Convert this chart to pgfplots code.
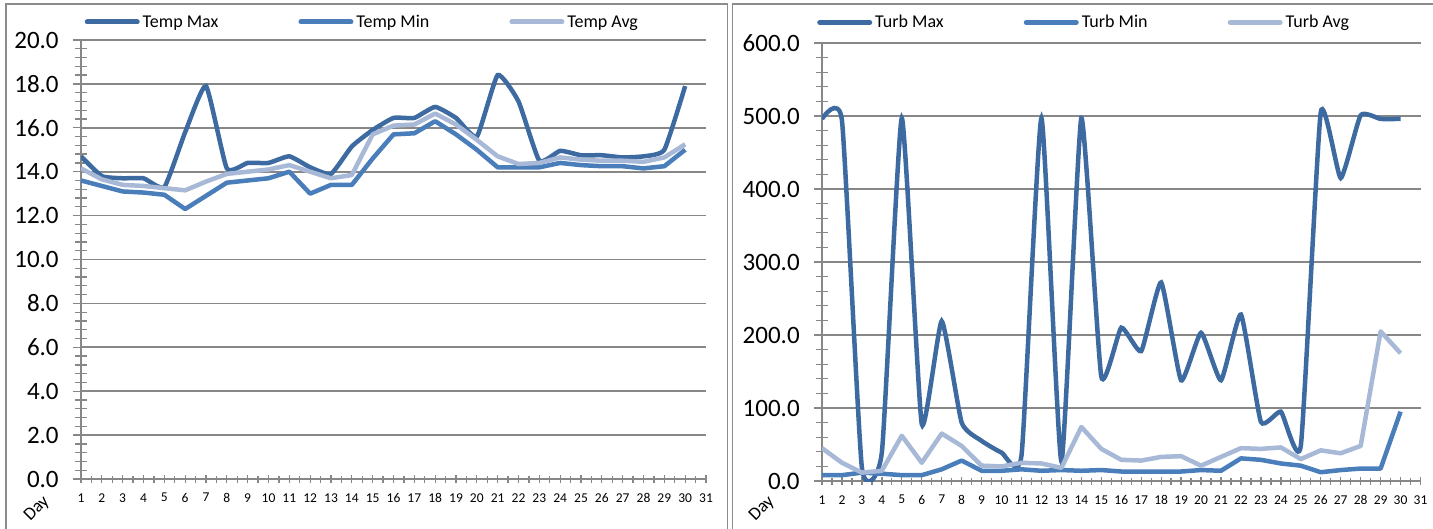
\documentclass[border=0pt]{standalone}
\usepackage{fontspec}
\setmainfont{Carlito}
\usepackage{pgfplots}
\usepackage{pgfplotstable}
\pgfplotsset{compat=1.18}

\definecolor{cmax}{HTML}{3D6AA0}
\definecolor{cmin}{HTML}{4A7EBB}
\definecolor{cavg}{HTML}{A7B9D6}
\definecolor{gridc}{HTML}{878787}
\definecolor{framec}{HTML}{8C8C8C}

\pgfplotstableread{
day tmax tmin tavg
1 14.7 13.6 14.15
2 13.8 13.35 13.65
3 13.7 13.1 13.4
4 13.7 13.05 13.35
5 13.3 12.95 13.25
6 15.8 12.3 13.15
7 17.9 12.9 13.55
8 14.15 13.5 13.9
9 14.4 13.6 14.0
10 14.4 13.7 14.1
11 14.7 14.0 14.3
12 14.2 13.0 14.0
13 13.9 13.4 13.7
14 15.15 13.4 13.85
15 15.9 14.6 15.7
16 16.45 15.7 16.1
17 16.45 15.75 16.15
18 16.95 16.3 16.65
19 16.45 15.7 16.15
20 15.6 15.0 15.45
21 18.4 14.2 14.7
22 17.2 14.2 14.35
23 14.5 14.2 14.4
24 14.95 14.4 14.65
25 14.75 14.3 14.55
26 14.75 14.25 14.5
27 14.65 14.25 14.5
28 14.7 14.15 14.45
29 15.0 14.25 14.65
30 17.9 15.0 15.25
}\temptable

\pgfplotstableread{
day bmax bmin bavg
1 496 8 45
2 494 8 25
3 18 11.5 11.5
4 39 10 14
5 497 8 62
6 78 8 25
7 219 16 65
8 80 28 48
9 55 14 21
10 39 14 20
11 35 16 25
12 497 14 24
13 27 15 18
14 497 14 74
15 143 15 44
16 210 13 29
17 178 13 28
18 272 13 33
19 138 13 34
20 203 15 21
21 138 14 33
22 228 31 45
23 81 29 44
24 95 24 46
25 48 21 30
26 505 12 42
27 415 15 38
28 501 17 48
29 496 17 205
30 496 95 175
}\turbtable

\pgfplotsset{
  panel/.style={
    scale only axis,
    axis lines*=left,
    xmin=1, xmax=31, ymin=0,
    xtick={1,...,31},
    minor x tick num=1,
    minor y tick num=4,
    tick align=center,
    ymajorgrids,
    grid style={gridc, line width=1.8pt},
    axis line style={gridc, line width=1.8pt},
    tick style={gridc, line width=1.3pt},
    xtick style={/pgfplots/major tick length=8pt, /pgfplots/minor tick length=7pt},
    ytick style={/pgfplots/major tick length=16pt, /pgfplots/minor tick length=12pt},
    /pgf/number format/assume math mode=true,
    yticklabel style={font=\fontsize{25}{25}\selectfont, anchor=east, inner sep=0pt, xshift=-20pt,
      /pgf/number format/.cd, fixed, fixed zerofill, precision=1},
    xticklabel style={font=\fontsize{13.5}{14}\selectfont, anchor=north, inner sep=0pt, yshift=-12pt},
    legend columns=3,
    legend cell align=left,
    legend image code/.code={\draw[#1, line width=5pt, line cap=round] (2pt,0pt) -- (52pt,0pt);},
    legend style={draw=none, fill=none, inner sep=0pt, outer sep=0pt,
      font=\fontsize{18}{20}\selectfont,
      nodes={inner sep=1pt},
      /tikz/every odd column/.append style={column sep=2pt},
      /tikz/every even column/.append style={column sep=79pt}},
  },
  smax/.style={cmax, line width=4.5pt, smooth, tension=0.28},
  smin/.style={cmin, line width=4.5pt, line join=round},
  savg/.style={cavg, line width=4.5pt, line join=round},
}

\begin{document}
\begin{tikzpicture}[x=1pt,y=1pt]
\useasboundingbox (0,0) rectangle (1433,528);
\draw[framec, line width=1.8pt] (6,-20) -- (6,524) -- (727.5,524) -- (727.5,-20);
\draw[framec, line width=1.8pt] (732.5,-20) -- (732.5,524) -- (1445,524);

\begin{axis}[panel,
  at={(81pt,49pt)}, anchor=origin,
  width=625pt, height=439pt,
  ymax=20, ytick distance=2,
  legend style={at={(0.006,1.041)}, anchor=west},
]
\addplot[smax] table[x=day,y=tmax] {\temptable};
\addplot[smin] table[x=day,y=tmin] {\temptable};
\addplot[savg] table[x=day,y=tavg] {\temptable};
\legend{Temp Max, Temp Min, Temp Avg}
\end{axis}
\node[rotate=45, font=\fontsize{18}{18}\selectfont] at (37,19) {Day};

\begin{axis}[panel,
  at={(822pt,47pt)}, anchor=origin,
  width=598.5pt, height=438pt,
  ymax=600, ytick distance=100,
  legend style={at={(-0.008,1.047)}, anchor=west},
]
\addplot[smax] table[x=day,y=bmax] {\turbtable};
\addplot[smin] table[x=day,y=bmin] {\turbtable};
\addplot[savg] table[x=day,y=bavg] {\turbtable};
\legend{Turb Max, Turb Min, Turb Avg}
\end{axis}
\node[rotate=45, font=\fontsize{18}{18}\selectfont] at (762,19) {Day};
\end{tikzpicture}
\end{document}
